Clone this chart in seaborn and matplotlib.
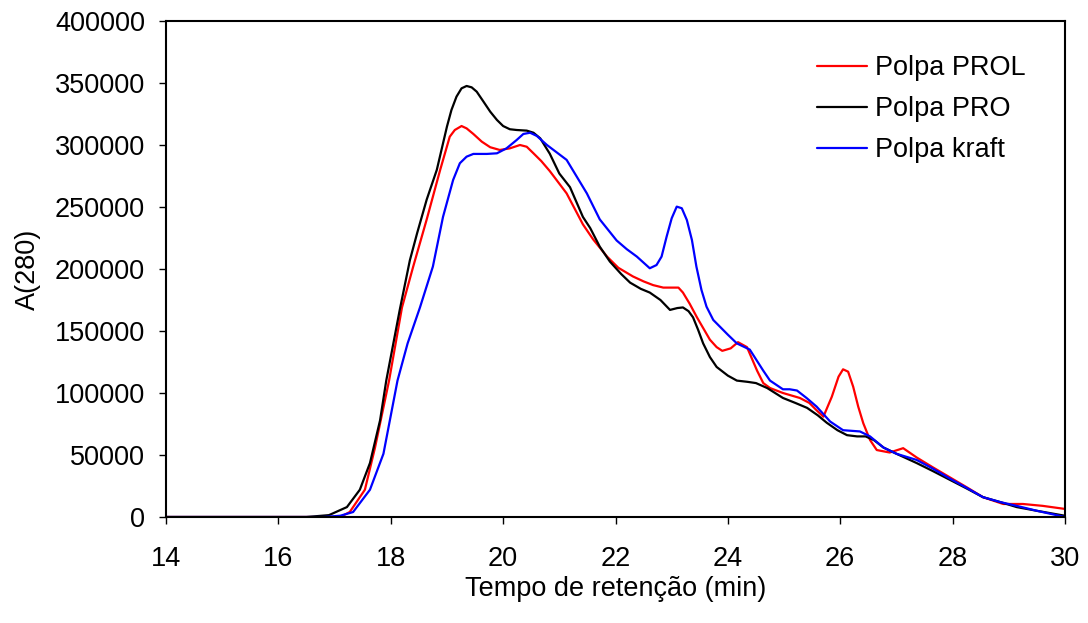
import matplotlib
matplotlib.use("Agg")
import matplotlib.pyplot as plt
import pandas as pd
import seaborn as sns

# Retention time (min) and A(280) readings for each pulp
t_prol = [14, 16.8, 17.1, 17.27, 17.54, 17.72, 17.97, 18.2, 18.4, 18.64, 18.88, 19.05, 19.14,
          19.26, 19.35, 19.47, 19.62, 19.77, 19.94, 20.12, 20.3, 20.42, 20.54, 20.68, 20.83,
          21.13, 21.42, 21.6, 21.85, 22.05, 22.31, 22.5, 22.67, 22.85, 23.02, 23.12, 23.2, 23.32,
          23.45, 23.68, 23.8, 23.9, 24.05, 24.18, 24.34, 24.52, 24.63, 24.75, 24.98, 25.28, 25.45,
          25.58, 25.7, 25.85, 25.97, 26.05, 26.14, 26.23, 26.32, 26.41, 26.53, 26.65, 26.88,
          27.12, 27.36, 27.65, 27.95, 28.25, 28.54, 28.9, 29.25, 29.6, 30.0]
a_prol = [0, 0, 0, 4000, 22000, 56000, 110000, 169000, 202000, 240000, 280000, 306700, 312100,
          315300, 313400, 308900, 302700, 298200, 296000, 297300, 300000, 298600, 293300, 287000,
          279000, 261000, 236000, 224000, 210000, 201000, 194000, 190000, 187000, 185000, 185000,
          185000, 181000, 172000, 161000, 143000, 137000, 134000, 136000, 141000, 137000, 118000,
          108000, 104000, 100000, 96000, 92000, 86000, 80900, 97000, 113200, 119100, 117200,
          105100, 89000, 75600, 62100, 54000, 52000, 55500, 48000, 40000, 32000, 24000, 16000,
          10500, 10500, 9000, 6500]

t_pro = [14, 16.5, 16.9, 17.22, 17.45, 17.63, 17.81, 17.92, 18.16, 18.34, 18.47, 18.64, 18.82,
         19.0, 19.08, 19.17, 19.26, 19.35, 19.44, 19.53, 19.65, 19.77, 19.89, 20.0, 20.12, 20.24,
         20.42, 20.54, 20.66, 20.83, 21.0, 21.19, 21.42, 21.55, 21.72, 21.9, 22.1, 22.26, 22.45,
         22.61, 22.8, 22.97, 23.1, 23.2, 23.3, 23.38, 23.47, 23.56, 23.68, 23.8, 24.0, 24.16,
         24.35, 24.5, 24.7, 24.98, 25.2, 25.41, 25.6, 25.76, 25.95, 26.12, 26.3, 26.45, 26.6,
         26.77, 27.0, 27.36, 27.65, 27.95, 28.25, 28.54, 28.85, 29.14, 29.5, 30.0]
a_pro = [0, 0, 1500, 8000, 22000, 43500, 78000, 110000, 167000, 207000, 229000, 256000, 280000,
         314800, 328200, 339000, 345700, 347600, 346500, 343000, 335000, 326900, 320200, 315300,
         312700, 312100, 311600, 309900, 305400, 293000, 277000, 266000, 242000, 233000, 218000,
         206000, 196000, 189000, 184000, 181000, 175000, 167000, 168500, 169000, 166000, 161000,
         151000, 140000, 129000, 121000, 114000, 110000, 109000, 108000, 104000, 96000, 92000,
         88000, 82000, 76000, 70000, 66000, 65000, 65000, 62000, 56000, 51000, 43500, 37000,
         30000, 23000, 16000, 12000, 8000, 5000, 1000]

t_kraft = [14, 16.8, 17.1, 17.33, 17.63, 17.87, 18.12, 18.3, 18.52, 18.75, 18.93, 19.11, 19.23,
           19.35, 19.47, 19.71, 19.89, 20.06, 20.24, 20.36, 20.48, 20.6, 20.78, 21.13, 21.49,
           21.72, 22.02, 22.2, 22.38, 22.61, 22.73, 22.82, 22.91, 23.0, 23.09, 23.18, 23.27,
           23.36, 23.44, 23.53, 23.62, 23.74, 24.0, 24.16, 24.39, 24.63, 24.75, 24.98, 25.1,
           25.23, 25.4, 25.58, 25.82, 26.05, 26.35, 26.53, 26.77, 27.0, 27.36, 27.65, 27.95,
           28.25, 28.54, 28.85, 29.14, 29.5, 30.0]
a_kraft = [0, 0, 1000, 4000, 22000, 51000, 110000, 140000, 169000, 202000, 242000, 271800, 285300,
           290600, 292800, 292800, 293300, 297300, 304000, 308900, 309900, 307300, 300000, 288000,
           261000, 240000, 223000, 216000, 210000, 200600, 203200, 210000, 226100, 240900, 250300,
           249000, 239500, 223400, 201900, 183100, 169600, 158900, 147000, 140000, 135000, 118000,
           110000, 103000, 103000, 102000, 96000, 89000, 77000, 70000, 69000, 65000, 56000, 51000,
           46000, 39000, 31000, 23500, 16000, 12000, 9000, 5000, 0]

series_names = ["Polpa PROL", "Polpa PRO", "Polpa kraft"]
series_colors = ["#FF0000", "#000000", "#0000FF"]
x_ticks = [14, 16, 18, 20, 22, 24, 26, 28, 30]
y_ticks = [0, 50000, 100000, 150000, 200000, 250000, 300000, 350000, 400000]

frames = []
for name, t, a in zip(series_names, [t_prol, t_pro, t_kraft], [a_prol, a_pro, a_kraft]):
    frames.append(pd.DataFrame({"tempo": t, "A280": a, "amostra": name}))
df = pd.concat(frames, ignore_index=True)

sns.set_style("ticks")
plt.rcParams["font.family"] = ["Liberation Sans", "DejaVu Sans"]
plt.rcParams["text.color"] = "black"
plt.rcParams["axes.labelcolor"] = "black"
plt.rcParams["lines.solid_joinstyle"] = "round"

FS = 19.5

fig = plt.figure(figsize=(10.88, 6.23), dpi=100)
ax = fig.add_axes([166 / 1088, 1 - 517 / 623, (1065 - 166) / 1088, (517 - 21) / 623])

sns.lineplot(data=df, x="tempo", y="A280", hue="amostra", hue_order=series_names,
             palette=dict(zip(series_names, series_colors)), estimator=None, sort=False,
             linewidth=1.6, ax=ax)

ax.set_xlim(14, 30)
ax.set_ylim(0, 400000)
ax.set_xticks(x_ticks)
ax.set_yticks(y_ticks)
ax.set_xticklabels([str(v) for v in x_ticks])
ax.set_yticklabels([str(v) for v in y_ticks])
ax.tick_params(axis="both", direction="out", length=5, width=1.0, labelsize=FS,
               colors="black")
ax.tick_params(axis="x", pad=16)
ax.tick_params(axis="y", pad=10)
for side in ["left", "bottom", "top", "right"]:
    ax.spines[side].set_visible(True)
    ax.spines[side].set_color("black")
    ax.spines[side].set_linewidth(1.5)

ax.set_xlabel("Tempo de retenção (min)", fontsize=FS, labelpad=3)
ax.set_ylabel("A(280)", fontsize=FS, labelpad=10)

handles, labels = ax.get_legend_handles_labels()
leg = ax.legend(handles, labels, loc="upper left",
                bbox_to_anchor=(817 / 1088, 1 - 55 / 623), bbox_transform=fig.transFigure,
                frameon=False, fontsize=FS, handlelength=1.85, handletextpad=0.3,
                labelspacing=0.56, borderpad=0, borderaxespad=0)
for line in leg.get_lines():
    line.set_linewidth(1.6)

fig.savefig("out.png", dpi=100, facecolor="white")
